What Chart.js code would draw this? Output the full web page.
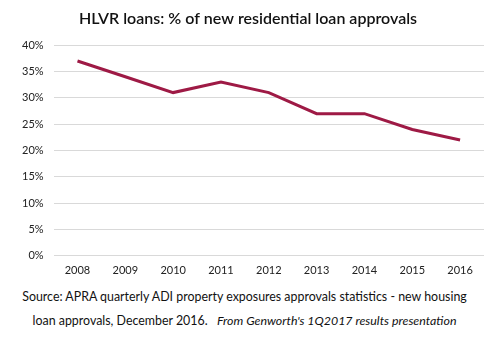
<!DOCTYPE html>
<html><head><meta charset="utf-8">
<script src="https://cdn.jsdelivr.net/npm/chart.js@4/dist/chart.umd.min.js"></script>
<style>
html,body{margin:0;padding:0;background:#fff;width:489px;height:347px;overflow:hidden;}
#wrap{position:absolute;left:0;top:0;width:489px;height:285px;}
#src{position:absolute;left:0;top:285px;width:489px;text-align:center;font-family:Lato,"Open Sans",sans-serif;font-size:12.4px;line-height:24px;color:#111;}
</style></head><body>
<div id="wrap"><canvas id="c"></canvas></div>
<div id="src">Source: APRA quarterly ADI property exposures approvals statistics - new housing<br>loan approvals, December 2016. &nbsp;&nbsp;<i>From Genworth's 1Q2017 results presentation</i></div>
<script>
const years = ["2008","2009","2010","2011","2012","2013","2014","2015","2016"];
const hlvrShare = [37, 34, 31, 33, 31, 27, 27, 24, 22];
const chartTitle = "HLVR loans: % of new residential loan approvals";

new Chart(document.getElementById('c'), {
  type: 'line',
  data: { labels: years, datasets: [{ data: hlvrShare, borderColor: '#9E1A45', borderWidth: 3, pointRadius: 0, tension: 0, fill: false }] },
  options: {
    responsive: true, maintainAspectRatio: false, animation: false,
    layout: { padding: { left: 12, right: 5, top: 5, bottom: 0 } },
    plugins: {
      legend: { display: false }, tooltip: { enabled: false },
      title: { display: true, text: chartTitle, color: '#111', font: { family: 'Lato, "Open Sans", sans-serif', size: 16, weight: '600' }, padding: { top: 4, bottom: 17 } }
    },
    scales: {
      x: { offset: true, grid: { display: false, drawTicks: false }, border: { display: false },
           ticks: { color: '#222', font: { family: 'Lato, "Open Sans", sans-serif', size: 11 }, padding: 8, maxRotation: 0 } },
      y: { min: 0, max: 40, grid: { color: '#d9d9d9', drawTicks: false }, border: { display: false },
           ticks: { stepSize: 5, color: '#222', padding: 10, font: { family: 'Lato, "Open Sans", sans-serif', size: 11 }, callback: v => v + '%' } }
    }
  }
});
</script>
</body></html>
